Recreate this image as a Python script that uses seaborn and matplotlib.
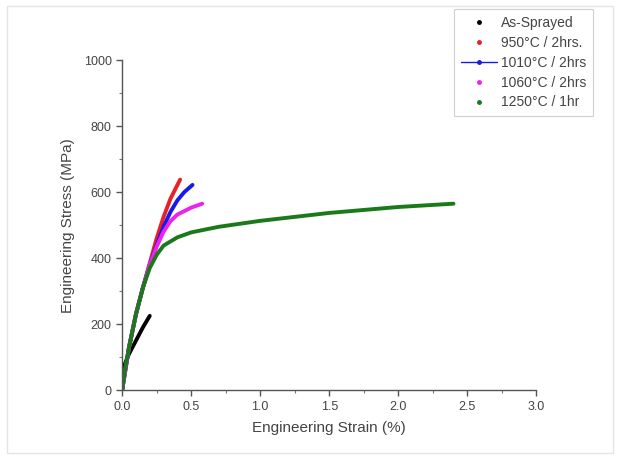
import pandas as pd
import seaborn as sns
import matplotlib.pyplot as plt
from matplotlib.lines import Line2D
from matplotlib.patches import Rectangle

# strain (%) / stress (MPa)
as_sprayed_x = [0.0, 0.02, 0.05, 0.1, 0.15, 0.2]
as_sprayed_y = [0, 80, 110, 150, 190, 225]

c950_x = [0.0, 0.05, 0.1, 0.15, 0.2, 0.25, 0.3, 0.35, 0.42]
c950_y = [0, 130, 230, 310, 385, 460, 525, 580, 638]

c1010_x = [0.0, 0.05, 0.1, 0.15, 0.2, 0.25, 0.3, 0.35, 0.4, 0.45, 0.51]
c1010_y = [0, 130, 230, 310, 380, 440, 495, 540, 575, 600, 622]

c1060_x = [0.0, 0.05, 0.1, 0.15, 0.2, 0.25, 0.3, 0.35, 0.4, 0.5, 0.58]
c1060_y = [0, 130, 230, 310, 380, 435, 480, 512, 532, 553, 565]

c1250_x = [0.0, 0.02, 0.05, 0.1, 0.15, 0.2, 0.25, 0.3, 0.4, 0.5, 0.7, 1.0, 1.5, 2.0, 2.4]
c1250_y = [0, 60, 130, 230, 310, 370, 410, 438, 463, 478, 495, 513, 537, 555, 565]

labels = ["As-Sprayed", "950\u00b0C / 2hrs.", "1010\u00b0C / 2hrs", "1060\u00b0C / 2hrs", "1250\u00b0C / 1hr"]
colors = ["black", "#e8202a", "#1a1ae6", "#ee22ee", "#1a7a1a"]

frames = []
for lab, xs, ys in zip(labels,
                       [as_sprayed_x, c950_x, c1010_x, c1060_x, c1250_x],
                       [as_sprayed_y, c950_y, c1010_y, c1060_y, c1250_y]):
    frames.append(pd.DataFrame({"strain": xs, "stress": ys, "sample": lab}))
df = pd.concat(frames, ignore_index=True)

sns.set_style("ticks")
plt.rcParams['font.family'] = ['Liberation Sans', 'DejaVu Sans']

fig = plt.figure(figsize=(6.2, 4.59), dpi=100)
ax = fig.add_axes([0.197, 0.150, 0.668, 0.719])

sns.lineplot(data=df, x="strain", y="stress", hue="sample", hue_order=labels,
             palette=dict(zip(labels, colors)), sort=False, estimator=None,
             linewidth=2.8, legend=False, ax=ax)

ax.set_xlim(0, 3.0)
ax.set_ylim(0, 1000)
ax.set_xticks([0.0, 0.5, 1.0, 1.5, 2.0, 2.5, 3.0])
ax.set_xticks([0.25, 0.75, 1.25, 1.75, 2.25, 2.75], minor=True)
ax.set_yticks([0, 200, 400, 600, 800, 1000])
ax.set_yticks([100, 300, 500, 700, 900], minor=True)
ax.set_xticklabels(["0.0", "0.5", "1.0", "1.5", "2.0", "2.5", "3.0"])
ax.tick_params(which="major", length=4, width=1, colors="#555555", labelsize=9, labelcolor="#444444")
ax.tick_params(which="minor", length=2.5, width=0.8, colors="#777777")
for s in ["left", "bottom"]:
    ax.spines[s].set_color("#555555")
    ax.spines[s].set_linewidth(1)
sns.despine(ax=ax)

ax.set_xlabel("Engineering Strain (%)", fontsize=11, color="#444444", labelpad=6)
ax.set_ylabel("Engineering Stress (MPa)", fontsize=11, color="#444444", labelpad=6)

handles = [Line2D([], [], color=c, marker="o", markersize=2.5,
                  linestyle="-" if i == 2 else "none", linewidth=1)
           for i, c in enumerate(colors)]
leg = fig.legend(handles, labels, loc="upper left", bbox_to_anchor=(0.732, 0.98),
                 frameon=True, fancybox=False, fontsize=10, labelspacing=0.42,
                 handlelength=2.6, handletextpad=0.3, borderpad=0.5, borderaxespad=0)
leg.get_frame().set_edgecolor("#c4c4c4")
leg.get_frame().set_linewidth(0.8)
for t in leg.get_texts():
    t.set_color("#444444")

fig.patches.append(Rectangle((0.012, 0.012), 0.976, 0.976, transform=fig.transFigure,
                             fill=False, edgecolor="#e4e4e4", linewidth=1))

plt.savefig("out.png", dpi=100)
plt.close()
